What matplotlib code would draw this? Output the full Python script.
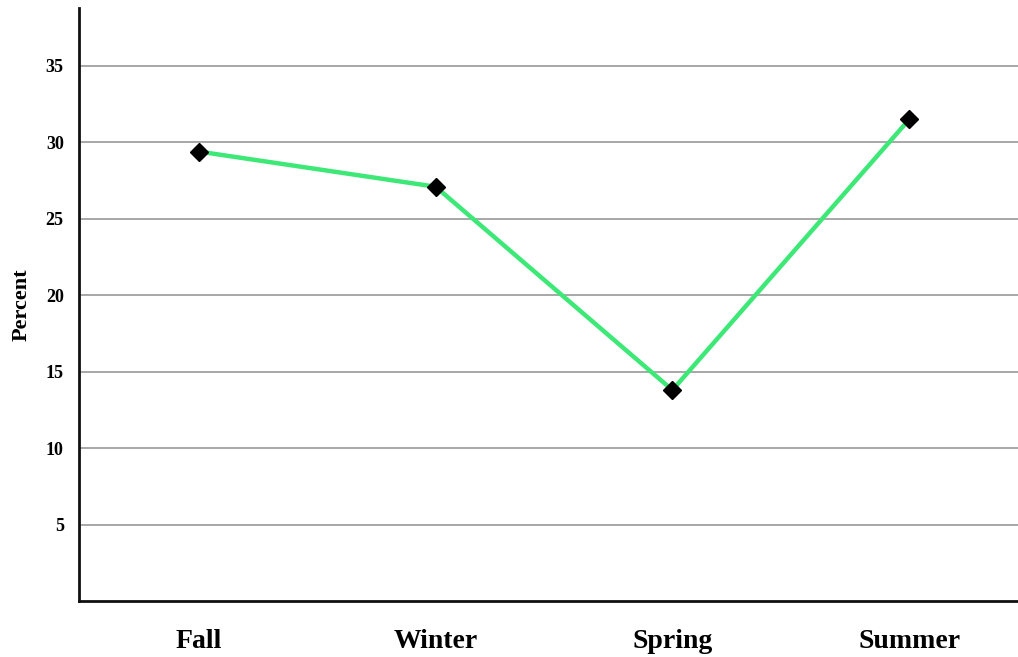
import matplotlib
matplotlib.use("Agg")
import matplotlib.pyplot as plt

seasons = ["Fall", "Winter", "Spring", "Summer"]
percent = [29.4, 27.1, 13.8, 31.5]
y_ticks = [5, 10, 15, 20, 25, 30, 35]

plt.rcParams["font.family"] = ["Liberation Serif", "DejaVu Serif"]
plt.rcParams["font.weight"] = "bold"

fig = plt.figure(figsize=(10.18, 6.57), dpi=100)
ax = fig.add_axes([0.0776, 0.0852, 0.9224, 0.9028])

x = list(range(len(seasons)))
ax.plot(x, percent, color="#3de877", linewidth=3.2, zorder=3,
        solid_capstyle="round")
ax.plot(x, percent, linestyle="none", marker="D", markersize=9.5,
        color="black", zorder=4)

ax.set_xlim(-0.507, 3.46)
ax.set_ylim(0, 38.8)
ax.set_yticks(y_ticks)
ax.set_yticklabels([str(v) for v in y_ticks], fontsize=13, fontweight="bold")
ax.set_xticks(x)
ax.set_xticklabels(seasons, fontsize=20, fontweight="bold")
ax.tick_params(axis="y", length=0, pad=11)
ax.tick_params(axis="x", length=0, pad=20)

ax.yaxis.grid(True, color="#a0a0a0", linewidth=1.3)
ax.set_axisbelow(True)

for side in ("top", "right"):
    ax.spines[side].set_visible(False)
for side in ("left", "bottom"):
    ax.spines[side].set_linewidth(2)
    ax.spines[side].set_color("#111111")

ax.set_ylabel("Percent", fontsize=16, fontweight="bold", labelpad=10)

fig.savefig("out.png", dpi=100)
